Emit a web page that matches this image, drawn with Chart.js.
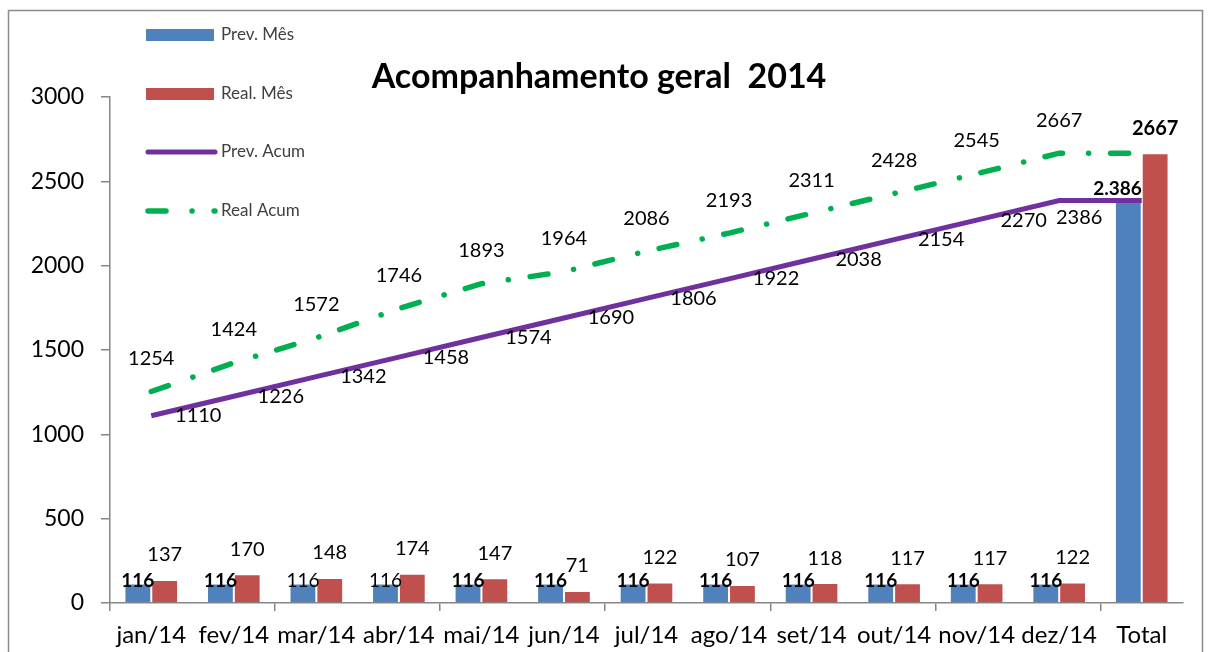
<!DOCTYPE html>
<html>
<head>
<meta charset="utf-8">
<script src="https://cdn.jsdelivr.net/npm/chart.js@4.4.1/dist/chart.umd.min.js"></script>
<style>
html,body{margin:0;padding:0;background:#fff;}
canvas{display:block;}
</style>
</head>
<body>
<canvas id="c" width="1209" height="652"></canvas>
<script>
const categories = ['jan/14','fev/14','mar/14','abr/14','mai/14','jun/14','jul/14','ago/14','set/14','out/14','nov/14','dez/14','Total'];
const prevMes = [116,116,116,116,116,116,116,116,116,116,116,116,2386];
const realMes = [137,170,148,174,147,71,122,107,118,117,117,122,2667];
const prevAcum = [1110,1226,1342,1458,1574,1690,1806,1922,2038,2154,2270,2386,2386];
const realAcum = [1254,1424,1572,1746,1893,1964,2086,2193,2311,2428,2545,2667,2667];
const seriesNames = ['Prev. Mês','Real. Mês','Prev. Acum','Real Acum'];
const yMin = 0, yMax = 3000, yStep = 500;
const titleText = 'Acompanhamento geral  2014';

const FONT = 'Lato, "Open Sans", sans-serif';
const BLUE = '#4F81BD', RED = '#C0504D', PURPLE = '#7030A0', GREEN = '#00B050';
const AXIS = '#868686';

function fmtThousands(v){ return String(v).replace(/\B(?=(\d{3})+(?!\d))/g, '.'); }

const framePlugin = {
  id: 'frame',
  beforeDraw(chart){
    const c = chart.ctx;
    c.save();
    c.fillStyle = '#fff';
    c.fillRect(0,0,chart.width,chart.height);
    c.strokeStyle = '#8c8c8c';
    c.lineWidth = 1.5;
    c.strokeRect(8.5, 10.5, 1194, 660);
    c.restore();
  }
};

const labelPlugin = {
  id: 'labels',
  afterDatasetsDraw(chart){
    const c = chart.ctx;
    const last = categories.length - 1;
    c.save();
    c.fillStyle = '#000';
    c.textBaseline = 'middle';
    // Prev. Mês bars
    const normalIdx = [2,3];
    chart.getDatasetMeta(0).data.forEach((el,i)=>{
      const v = prevMes[i];
      if (i === last){
        c.font = 'bold 19px ' + FONT;
        c.textAlign = 'right';
        c.fillText(fmtThousands(v), el.x + el.width/2, el.y - 12);
      } else {
        c.font = (normalIdx.includes(i) ? '' : 'bold ') + '19px ' + FONT;
        c.textAlign = 'center';
        c.fillText(String(v), el.x, el.y - 3);
      }
    });
    // Real. Mês bars
    chart.getDatasetMeta(1).data.forEach((el,i)=>{
      c.font = (i === last ? 'bold ' : '') + '20px ' + FONT;
      c.textAlign = 'center';
      c.fillText(String(realMes[i]), el.x, el.y - 25);
    });
    // Prev. Acum line
    chart.getDatasetMeta(2).data.forEach((el,i)=>{
      if (i === last) return;
      c.font = '20px ' + FONT;
      c.textAlign = 'center';
      if (i === last - 1) c.fillText(String(prevAcum[i]), el.x + 20, el.y + 17);
      else c.fillText(String(prevAcum[i]), el.x + 47, el.y);
    });
    // Real Acum line
    chart.getDatasetMeta(3).data.forEach((el,i)=>{
      if (i === last) return;
      c.font = '20px ' + FONT;
      c.textAlign = 'center';
      c.fillText(String(realAcum[i]), el.x, el.y - 33);
    });
    c.restore();
  },
  afterDraw(chart){
    const c = chart.ctx;
    c.save();
    // title
    c.font = 'bold 34px ' + FONT;
    c.fillStyle = '#000';
    c.textAlign = 'center';
    c.textBaseline = 'alphabetic';
    c.fillText(titleText, 599, 88);
    // legend
    const lx = 146, lw = 68, tx = 221;
    const rows = [35, 94, 152, 211];
    c.font = '17px ' + FONT;
    c.textAlign = 'left';
    c.textBaseline = 'middle';
    chart.data.datasets.forEach((ds, k)=>{
      const y = rows[k];
      if (ds.type === 'bar'){
        c.fillStyle = ds.backgroundColor;
        c.fillRect(lx, y - 6, lw, 12);
      } else {
        c.strokeStyle = ds.borderColor;
        c.lineWidth = ds.borderWidth;
        c.lineCap = 'round';
        c.setLineDash(ds.borderDash || []);
        c.beginPath();
        c.moveTo(lx + 2, y);
        c.lineTo(lx + lw + 1, y);
        c.stroke();
        c.setLineDash([]);
      }
      c.fillStyle = '#404040';
      c.fillText(ds.label, tx, y);
    });
    c.restore();
  }
};

new Chart(document.getElementById('c'), {
  data: {
    labels: categories,
    datasets: [
      { type:'bar', label: seriesNames[0], data: prevMes, backgroundColor: BLUE, borderColor: 'rgba(255,255,255,0.7)', borderWidth: 1, order: 2, categoryPercentage: 0.65, barPercentage: 1.0 },
      { type:'bar', label: seriesNames[1], data: realMes, backgroundColor: RED, borderColor: 'rgba(255,255,255,0.7)', borderWidth: 1, order: 2, categoryPercentage: 0.65, barPercentage: 1.0 },
      { type:'line', label: seriesNames[2], data: prevAcum, borderColor: PURPLE, borderWidth: 5, pointRadius: 0, tension: 0, order: 1, borderCapStyle: 'butt' },
      { type:'line', label: seriesNames[3], data: realAcum, borderColor: GREEN, borderWidth: 5.5, pointRadius: 0, tension: 0, order: 0, borderDash: [18, 26, 0.1, 22], borderCapStyle: 'round' }
    ]
  },
  options: {
    responsive: false,
    animation: false,
    events: [],
    layout: { padding: { left: 0, top: 97, right: 26, bottom: 0 } },
    plugins: { legend: { display: false }, title: { display: false }, tooltip: { enabled: false } },
    scales: {
      x: {
        offset: true,
        grid: {
          display: true, drawOnChartArea: false, drawTicks: true, tickLength: 8,
          color: (ctx) => (ctx.index % 2 === 0 ? AXIS : 'rgba(0,0,0,0)'),
          lineWidth: 1.5
        },
        border: { display: true, color: AXIS, width: 1.5 },
        ticks: { color: '#000', font: { family: FONT, size: 24 }, padding: 10, maxRotation: 0, autoSkip: false },
        afterFit(scale){ scale.height = 49; }
      },
      y: {
        min: yMin, max: yMax,
        grid: { display: true, drawOnChartArea: false, drawTicks: true, tickLength: 9, color: AXIS, lineWidth: 1.5 },
        border: { display: true, color: AXIS, width: 1.5 },
        ticks: { stepSize: yStep, color: '#000', font: { family: FONT, size: 23 }, padding: 17, callback: (v) => String(v) },
        afterFit(scale){ scale.width = 110; }
      }
    }
  },
  plugins: [framePlugin, labelPlugin]
});
</script>
</body>
</html>
